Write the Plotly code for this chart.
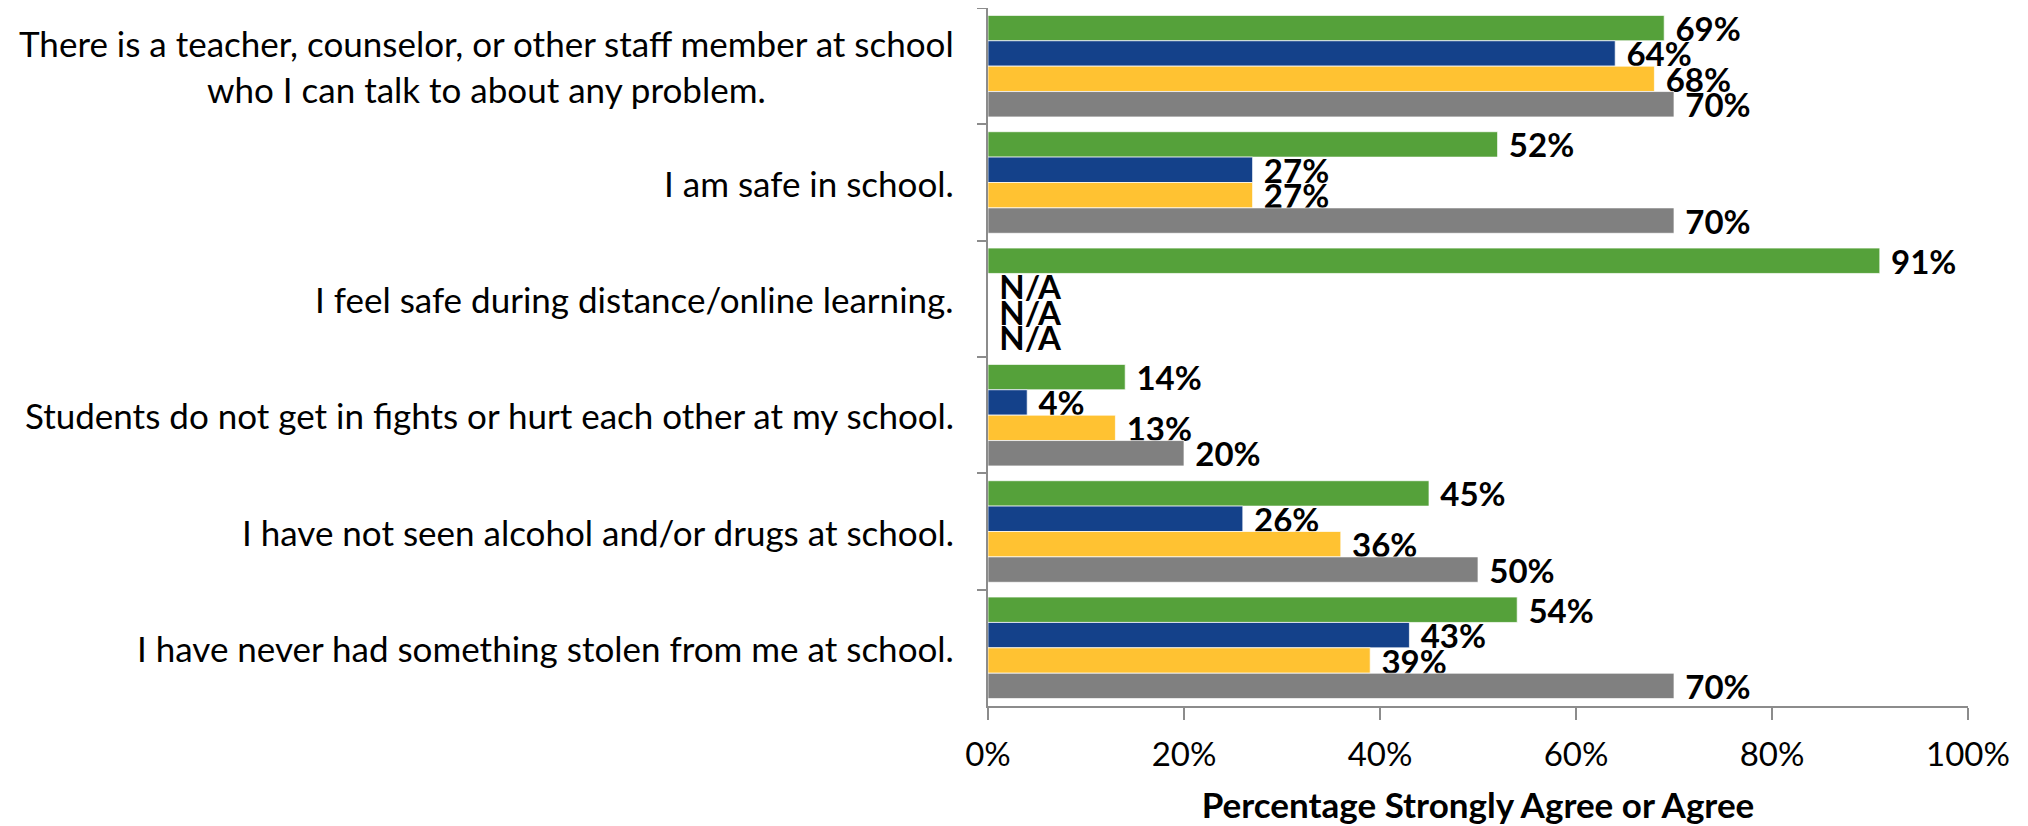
import plotly.graph_objects as go

statements = [
    "There is a teacher, counselor, or other staff member at school<br>who I can talk to about any problem.",
    "I am safe in school.",
    "I feel safe during distance/online learning.",
    "Students do not get in fights or hurt each other at my school.",
    "I have not seen alcohol and/or drugs at school.",
    "I have never had something stolen from me at school.",
]

# four survey groups, top to bottom within each statement (no legend in the source)
green_vals = [69, 52, 91, 14, 45, 54]
blue_vals = [64, 27, None, 4, 26, 43]
yellow_vals = [68, 27, None, 13, 36, 39]
gray_vals = [70, 70, None, 20, 50, 70]

series = [
    ("Group 1", green_vals, "#55A13A"),
    ("Group 2", blue_vals, "#14418A"),
    ("Group 3", yellow_vals, "#FFC232"),
    ("Group 4", gray_vals, "#808080"),
]

FONT = "Lato, Open Sans, sans-serif"

fig = go.Figure()
for name, vals, color in series:
    xs = [v / 100 if v is not None else 0 for v in vals]
    # small leading space so the label sits a little off the bar end
    labels = ["\u2005" + (f"{v}%" if v is not None else "N/A") for v in vals]
    fig.add_bar(
        y=list(range(len(statements))), x=xs, orientation="h", name=name,
        marker=dict(color=color, line=dict(color="rgba(255,255,255,0.7)", width=1)),
        text=labels, textposition="outside", cliponaxis=False, constraintext="none",
        textfont=dict(family=FONT, size=33, color="black", weight="bold"),
    )

# statement labels, centred like the original
for i, s in enumerate(statements):
    fig.add_annotation(
        x=0, xref="paper", y=i, yref="y", text=s, showarrow=False,
        xanchor="right", xshift=-32, align="center",
        font=dict(family=FONT, size=35, color="black"),
    )

fig.update_layout(
    barmode="group", bargap=0.127, bargroupgap=0,
    width=2028, height=826,
    margin=dict(l=980, r=68, t=0, b=128),
    plot_bgcolor="white", paper_bgcolor="white",
    showlegend=False,
    font=dict(family=FONT, size=28, color="black"),
)
fig.update_xaxes(
    range=[0, 1], tickformat=".0%", dtick=0.2, showgrid=False, zeroline=False,
    showline=True, linecolor="#8C8C8C", linewidth=2,
    ticks="outside", ticklen=12, tickwidth=2, tickcolor="#8C8C8C",
    tickfont=dict(size=33), ticklabelstandoff=6,
    title=dict(text="<b>Percentage Strongly Agree or Agree</b>", font=dict(size=35), standoff=22),
)
fig.update_yaxes(
    type="category", autorange="reversed", showticklabels=False, showgrid=False,
    showline=True, linecolor="#8C8C8C", linewidth=2,
    ticks="outside", tickson="boundaries", ticklen=9, tickwidth=2, tickcolor="#8C8C8C",
)

fig.write_html("out.html")
